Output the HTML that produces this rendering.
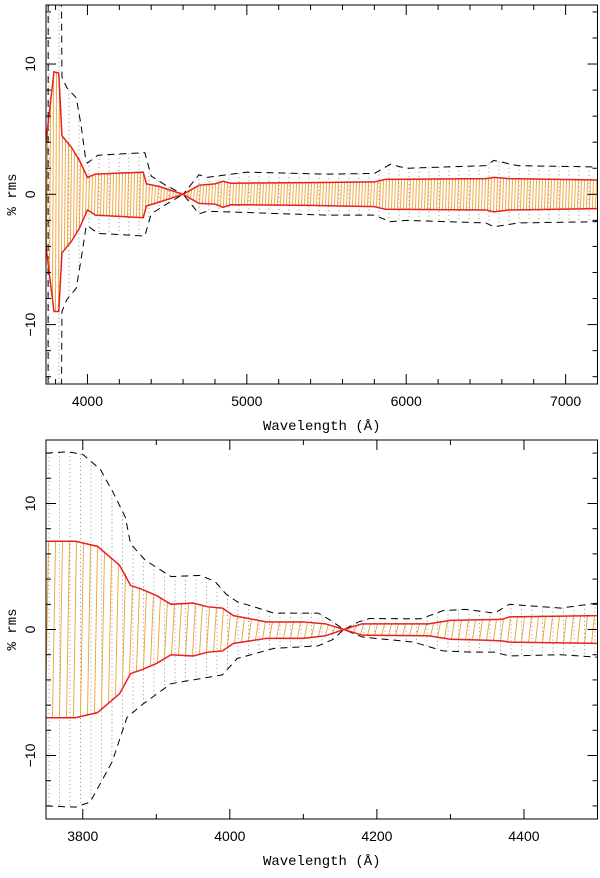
<!DOCTYPE html>
<html><head><meta charset="utf-8"><style>
body{margin:0;background:#fff;}
svg text{font-family:"Liberation Sans",sans-serif;font-size:14px;fill:#000;}
.ttl{font-family:"Liberation Mono",monospace;font-size:14px;}
</style></head><body>
<svg id="chart" width="600" height="873" viewBox="0 0 600 873" xmlns="http://www.w3.org/2000/svg"></svg>
<script>
// Top panel data
const topRedUpX=[3740,3790,3820,3840,3900,3950,4000,4050,4350,4370,4450,4600,4700,4800,4850,4900,5400,5800,5870,6500,6550,6650,7200];
const topRedUpV=[4,9.4,9.3,4.5,3.6,2.6,1.3,1.55,1.7,0.8,0.6,0,0.7,0.8,1.0,0.85,0.9,0.95,1.15,1.2,1.3,1.2,1.1];
const topRedLoX=[3740,3790,3820,3840,3900,3950,4000,4050,4350,4370,4450,4600,4700,4800,4850,4900,5400,5800,5870,6500,6550,6650,7200];
const topRedLoV=[-4,-9.0,-9.0,-4.5,-3.6,-2.6,-1.2,-1.6,-1.8,-0.9,-0.6,0,-0.7,-0.75,-1.0,-0.8,-0.85,-0.95,-1.15,-1.2,-1.35,-1.2,-1.1];
const topDashUpX=[3753,3753.5,3835,3840,3870,3930,3960,3990,4000,4065,4360,4400,4490,4600,4700,4750,5000,5500,5800,5900,6000,6500,6550,6700,7200];
const topDashUpV=[-20,20,20,9,8.2,7.4,5.3,2.6,2.4,3.0,3.2,1.4,0.7,0,1.5,1.3,1.7,1.55,1.6,2.3,2.0,2.2,2.6,2.2,2.1];
const topDashLoX=[3742,3835,3840,3870,3930,3960,3990,4000,4065,4360,4400,4490,4600,4700,4750,5000,5500,5800,5900,6000,6500,6550,6700,7200];
const topDashLoV=[-20,-20,-9,-8.1,-7.2,-5.0,-2.6,-2.4,-3.0,-3.2,-1.5,-0.8,0,-1.5,-1.3,-1.4,-1.6,-1.6,-2.1,-2.0,-2.2,-2.5,-2.2,-2.1];
// Bottom panel data
const botRedUpX=[3750,3790,3820,3850,3865,3880,3900,3920,3950,3970,3990,4005,4050,4100,4130,4155,4180,4270,4300,4350,4370,4380,4500];
const botRedUpV=[7.0,7.0,6.6,5.1,3.5,3.2,2.7,2.0,2.1,1.8,1.7,1.1,0.6,0.6,0.45,0,0.45,0.45,0.72,0.78,0.8,1.0,1.1];
const botRedLoX=[3750,3790,3820,3850,3865,3880,3900,3920,3950,3970,3990,4005,4050,4100,4130,4155,4180,4270,4300,4350,4370,4380,4500];
const botRedLoV=[-7.0,-7.0,-6.6,-5.1,-3.5,-3.2,-2.7,-2.0,-2.1,-1.8,-1.7,-1.1,-0.7,-0.7,-0.5,0,-0.45,-0.5,-0.77,-0.85,-0.9,-1.0,-1.1];
const botDashUpX=[3750,3780,3800,3824,3842,3858,3865,3885,3920,3960,3980,3995,4010,4033,4060,4120,4135,4155,4175,4190,4260,4290,4320,4360,4380,4450,4500];
const botDashUpV=[14,14.1,13.9,12.7,10.8,8.9,6.8,5.5,4.2,4.3,3.8,2.8,2.2,1.8,1.3,1.3,0.8,0,0.6,0.87,0.85,1.5,1.6,1.3,2.0,1.7,2.1];
const botDashLoX=[3750,3790,3810,3840,3860,3880,3920,3990,4010,4060,4120,4140,4155,4180,4250,4290,4330,4360,4380,4450,4500];
const botDashLoV=[-14,-14.1,-13.7,-10.5,-7.0,-6.0,-4.3,-3.6,-2.3,-1.5,-1.3,-0.8,0,-0.6,-1.0,-1.7,-1.8,-1.8,-2.1,-2.0,-2.2];
const topXTicks=[4000,5000,6000,7000];
const botXTicks=[3800,4000,4200,4400];
const yTicks=[-10,0,10];

const NS="http://www.w3.org/2000/svg";
const svg=document.getElementById('chart');
function mk(tag,attrs,parent){const e=document.createElementNS(NS,tag);for(const k in attrs)e.setAttribute(k,attrs[k]);(parent||svg).appendChild(e);return e;}
function interp(xs,vs,x){if(x<=xs[0])return vs[0];for(let i=1;i<xs.length;i++){if(x<=xs[i]){const t=(x-xs[i-1])/(xs[i]-xs[i-1]);return vs[i-1]+t*(vs[i]-vs[i-1]);}}return vs[vs.length-1];}

function panel(id,L,R,T,B,x0,x1,y0,y1,xTicks,xMinor,data,hatchStep,dotStep,slant){
  const sx=x=>L+(x-x0)/(x1-x0)*(R-L);
  const sy=v=>B-(v-y0)/(y1-y0)*(B-T);
  const g=mk('g',{});
  
  
  const cp=mk('clipPath',{id:id+'clip'},g);mk('rect',{x:L,y:T,width:R-L,height:B-T},cp);
  const pg=mk('g',{'clip-path':'url(#'+id+'clip)'},g);
  for(let px=L+3;px<R;px+=dotStep){const x=x0+(px-L)/(R-L)*(x1-x0);
    const dy1=interp(data.du[0],data.du[1],x), dy2=interp(data.dl[0],data.dl[1],x);
    const l=mk('line',{x1:px,x2:px,y1:sy(Math.min(dy1,20)),y2:sy(Math.max(dy2,-20)),stroke:'#777','stroke-width':0.8,'stroke-dasharray':'1 3'},pg);
    
    }
  for(let px=L+1;px<R;px+=hatchStep){const x=x0+(px-L)/(R-L)*(x1-x0);
    const l=mk('line',{x1:px+slant,x2:px-slant,y1:sy(interp(data.ru[0],data.ru[1],x)),y2:sy(interp(data.rl[0],data.rl[1],x)),stroke:'#f0a030','stroke-width':0.9},pg);
    
    }
  const poly=(xs,vs,attrs,name)=>{const p=mk('polyline',Object.assign({points:xs.map((x,i)=>sx(x)+','+sy(vs[i])).join(' '),fill:'none'},attrs),pg);
    
    };
  poly(data.du[0],data.du[1],{stroke:'#000','stroke-width':1,'stroke-dasharray':'7 5'},'upper-dashed-envelope');
  poly(data.dl[0],data.dl[1],{stroke:'#000','stroke-width':1,'stroke-dasharray':'7 5'},'lower-dashed-envelope');
  poly(data.ru[0],data.ru[1],{stroke:'#e82020','stroke-width':1.5},'upper-rms-line');
  poly(data.rl[0],data.rl[1],{stroke:'#e82020','stroke-width':1.5},'lower-rms-line');
  const fr=mk('rect',{x:L,y:T,width:R-L,height:B-T,fill:'none',stroke:'#000','stroke-width':1},g);
  
  
  for(let x=Math.ceil(x0/xMinor)*xMinor;x<=x1;x+=xMinor){const px=sx(x);const maj=xTicks.includes(x);const len=maj?10:5;
    mk('line',{x1:px,x2:px,y1:B,y2:B-len,stroke:'#000'},g);mk('line',{x1:px,x2:px,y1:T,y2:T+len,stroke:'#000'},g);}
  xTicks.forEach(x=>{const t=mk('text',{x:sx(x),y:B+22,'text-anchor':'middle'},g);t.textContent=x;
    
    });
  for(let v=Math.ceil(y0/2)*2;v<=y1;v+=2){const py=sy(v);const maj=yTicks.includes(v);const len=maj?10:5;
    mk('line',{x1:L,x2:L+len,y1:py,y2:py,stroke:'#000'},g);mk('line',{x1:R,x2:R-len,y1:py,y2:py,stroke:'#000'},g);}
  yTicks.forEach(v=>{const t=mk('text',{x:0,y:0,'text-anchor':'middle',transform:'translate(35,'+sy(v)+') rotate(-90)'},g);t.textContent=(v<0?'\u2212'+(-v):v);
    
    });
  const xt=mk('text',{x:(L+R)/2,y:B+46,'text-anchor':'middle',class:'ttl'},g);xt.textContent='Wavelength (Å)';
  
  
  const yt=mk('text',{x:0,y:0,'text-anchor':'middle',class:'ttl',transform:'translate(16,'+((T+B)/2)+') rotate(-90)'},g);yt.textContent='% rms';
  
  
}
panel('top',46,597.5,5,384,3740,7200,-14.56,14.53,topXTicks,200,
  {ru:[topRedUpX,topRedUpV],rl:[topRedLoX,topRedLoV],du:[topDashUpX,topDashUpV],dl:[topDashLoX,topDashLoV]},3,10,0.5);
panel('bottom',46,597.5,440,819,3750,4500,-15.04,15.04,botXTicks,100,
  {ru:[botRedUpX,botRedUpV],rl:[botRedLoX,botRedLoV],du:[botDashUpX,botDashUpV],dl:[botDashLoX,botDashLoV]},7,10.5,1.5);
</script>
</body></html>
